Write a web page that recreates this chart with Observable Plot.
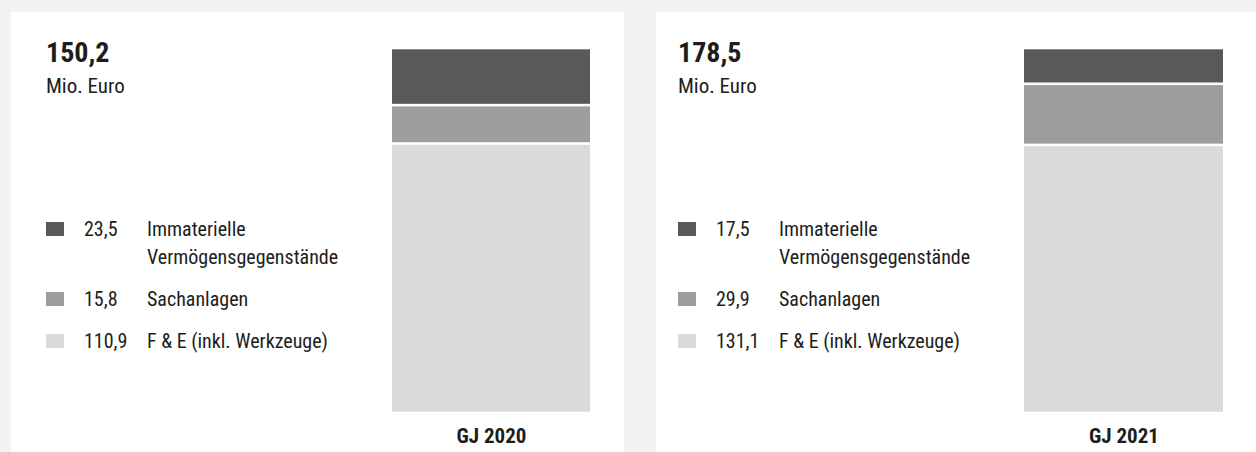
<!DOCTYPE html>
<html>
<head>
<meta charset="utf-8">
<script src="https://cdn.jsdelivr.net/npm/d3@7"></script>
<script src="https://cdn.jsdelivr.net/npm/@observablehq/plot@0.6"></script>
<style>
  html, body { margin: 0; padding: 0; }
  body {
    width: 1256px; height: 452px; overflow: hidden; position: relative;
    background: #f2f2f2;
    font-family: "Liberation Sans Narrow", "Roboto Condensed", "DejaVu Sans Condensed", Roboto, sans-serif;
    color: #1d1d1b;
  }
  .panel { position: absolute; top: 12px; height: 440px; background: #fff; overflow: hidden; }
  .panel svg { position: absolute; left: 0; top: 0; }
  .title { position: absolute; top: 27px; font-size: 28px; font-weight: bold; line-height: 1; }
  .unit { position: absolute; top: 64px; font-size: 21px; line-height: 1; }
  .legend { position: absolute; top: 203px; font-size: 20px; line-height: 28px; }
  .row { display: grid; grid-template-columns: 38px 63px auto; margin-bottom: 14px; }
  .sw { width: 18px; height: 14px; margin-top: 7px; }
</style>
</head>
<body>
<script>
const categories = ["Immaterielle Vermögensgegenstände", "Sachanlagen", "F & E (inkl. Werkzeuge)"];
const legendLines = [["Immaterielle", "Vermögensgegenstände"], ["Sachanlagen"], ["F & E (inkl. Werkzeuge)"]];
const colors = ["#595957", "#9d9d9c", "#dadada"];
const years = ["GJ 2020", "GJ 2021"];
const totals = [150.2, 178.5];
const values2020 = [23.5, 15.8, 110.9];
const values2021 = [17.5, 29.9, 131.1];
const seriesValues = [values2020, values2021];

const fmt = v => v.toFixed(1).replace(".", ",");

const panels = [
  {left: 11, width: 613, inset: 35, barLeft: 381, barRight: 579},
  {left: 656, width: 600, inset: 22, barLeft: 368, barRight: 567}
];

panels.forEach((p, i) => {
  const div = document.createElement("div");
  div.className = "panel";
  div.style.left = p.left + "px";
  div.style.width = p.width + "px";
  document.body.appendChild(div);

  const data = categories.map((c, k) => ({year: years[i], cat: c, value: seriesValues[i][k], order: k}));
  const chart = Plot.plot({
    width: p.width,
    height: 440,
    marginTop: 36,
    marginBottom: 39,
    marginLeft: p.barLeft,
    marginRight: p.width - p.barRight,
    style: {fontFamily: "'Liberation Sans Narrow', 'Roboto Condensed', 'DejaVu Sans Condensed', Roboto, sans-serif", background: "transparent", color: "#1d1d1b"},
    x: {domain: [years[i]], padding: 0, axis: null, label: null},
    y: {domain: [0, totals[i]], axis: null},
    color: {domain: categories, range: colors},
    marks: [
      Plot.barY(data, Plot.stackY({
        x: "year", y: "value", fill: "cat",
        order: d => -d.order,
        insetTop: 1.3, insetBottom: 1.3
      })),
      Plot.axisX({tickSize: 0, tickPadding: 15, label: null, fontSize: 21, fontWeight: "bold", fill: "#1d1d1b"})
    ]
  });
  div.appendChild(chart);

  const t = document.createElement("div");
  t.className = "title"; t.style.left = p.inset + "px";
  t.textContent = fmt(totals[i]);
  div.appendChild(t);

  const u = document.createElement("div");
  u.className = "unit"; u.style.left = p.inset + "px";
  u.textContent = "Mio. Euro";
  div.appendChild(u);

  const lg = document.createElement("div");
  lg.className = "legend"; lg.style.left = p.inset + "px";
  categories.forEach((c, k) => {
    const row = document.createElement("div");
    row.className = "row";
    const sw = document.createElement("div");
    sw.className = "sw"; sw.style.background = colors[k];
    const num = document.createElement("div");
    num.textContent = fmt(seriesValues[i][k]);
    const lab = document.createElement("div");
    lab.innerHTML = legendLines[k].join("<br>");
    row.append(sw, num, lab);
    lg.appendChild(row);
  });
  div.appendChild(lg);
});
</script>
</body>
</html>
